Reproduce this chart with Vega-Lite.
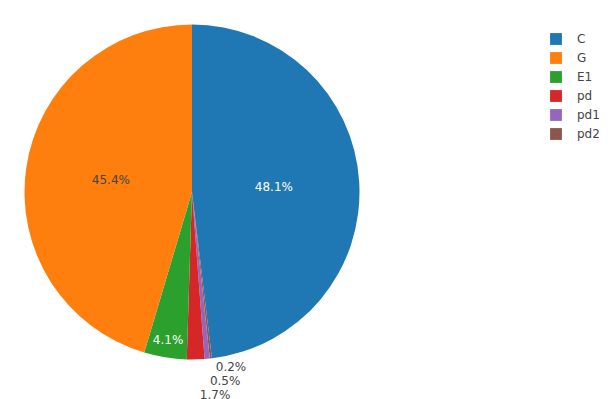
{
  "$schema": "https://vega.github.io/schema/vega-lite/v6.json",
  "width": 384,
  "height": 384,
  "autosize": "none",
  "padding": {"left": 0, "top": 0, "right": 230, "bottom": 15},
  "background": "white",
  "config": {"view": {"stroke": null}, "font": "DejaVu Sans"},
  "data": {
    "values": [
      {"cat": "C", "value": 0.481, "ord": 1},
      {"cat": "pd2", "value": 0.002, "ord": 2},
      {"cat": "pd1", "value": 0.005, "ord": 3},
      {"cat": "pd", "value": 0.017, "ord": 4},
      {"cat": "E1", "value": 0.041, "ord": 5},
      {"cat": "G", "value": 0.454, "ord": 6}
    ]
  },
  "layer": [
    {
      "mark": {"type": "arc", "outerRadius": 167.5},
      "encoding": {
        "theta": {"field": "value", "type": "quantitative", "stack": true},
        "order": {"field": "ord", "type": "quantitative"},
        "color": {
          "field": "cat",
          "type": "nominal",
          "scale": {
            "domain": ["C", "G", "E1", "pd", "pd1", "pd2"],
            "range": ["#1f77b4", "#ff7f0e", "#2ca02c", "#d62728", "#9467bd", "#8c564b"]
          },
          "legend": {
            "orient": "none",
            "legendX": 550,
            "legendY": 33,
            "title": null,
            "symbolType": "square",
            "symbolSize": 140,
            "symbolStrokeWidth": 0,
            "labelFontSize": 12,
            "labelColor": "#444",
            "labelFont": "DejaVu Sans",
            "rowPadding": 7,
            "labelOffset": 15
          }
        }
      }
    },
    {
      "mark": {"type": "text", "radius": 82, "fontSize": 12, "align": "center", "baseline": "middle"},
      "encoding": {
        "theta": {"field": "value", "type": "quantitative", "stack": true},
        "order": {"field": "ord", "type": "quantitative"},
        "text": {"condition": {"test": "datum.cat === 'C' || datum.cat === 'G'", "field": "value", "format": ".1%"}, "value": ""},
        "color": {"condition": {"test": "datum.cat === 'C'", "value": "white"}, "value": "#444"}
      }
    },
    {
      "mark": {"type": "text", "radius": 150, "fontSize": 12, "align": "center", "baseline": "middle", "color": "white"},
      "encoding": {
        "theta": {"field": "value", "type": "quantitative", "stack": true},
        "order": {"field": "ord", "type": "quantitative"},
        "text": {"condition": {"test": "datum.cat === 'E1'", "field": "value", "format": ".1%"}, "value": ""}
      }
    },
    {
      "mark": {"type": "text", "radius": 175, "fontSize": 12, "align": "left", "baseline": "middle", "color": "#444", "dx": 4, "dy": 1},
      "encoding": {
        "theta": {"field": "value", "type": "quantitative", "stack": true},
        "order": {"field": "ord", "type": "quantitative"},
        "text": {"condition": {"test": "datum.cat === 'pd2'", "field": "value", "format": ".1%"}, "value": ""}
      }
    },
    {
      "mark": {"type": "text", "radius": 175, "fontSize": 12, "align": "left", "baseline": "middle", "color": "#444", "dx": 2, "dy": 15},
      "encoding": {
        "theta": {"field": "value", "type": "quantitative", "stack": true},
        "order": {"field": "ord", "type": "quantitative"},
        "text": {"condition": {"test": "datum.cat === 'pd1'", "field": "value", "format": ".1%"}, "value": ""}
      }
    },
    {
      "mark": {"type": "text", "radius": 175, "fontSize": 12, "align": "left", "baseline": "middle", "color": "#444", "dx": 4, "dy": 28},
      "encoding": {
        "theta": {"field": "value", "type": "quantitative", "stack": true},
        "order": {"field": "ord", "type": "quantitative"},
        "text": {"condition": {"test": "datum.cat === 'pd'", "field": "value", "format": ".1%"}, "value": ""}
      }
    }
  ]
}
